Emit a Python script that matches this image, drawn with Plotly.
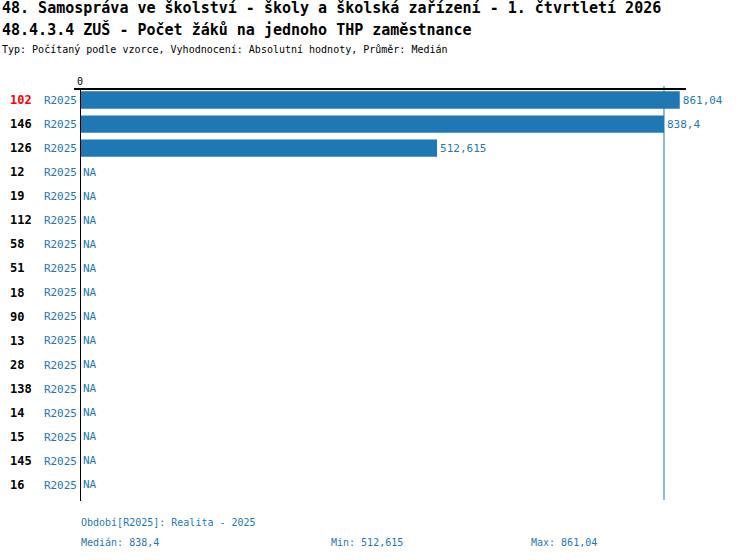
import plotly.graph_objects as go

ids = ["102", "146", "126", "12", "19", "112", "58", "51", "18", "90",
       "13", "28", "138", "14", "15", "145", "16"]
period = "R2025"
values = [861.04, 838.4, 512.615, None, None, None, None, None, None, None,
          None, None, None, None, None, None, None]
highlight = "102"
median = 838.4
v_min = 512.615
v_max = 861.04

title1 = "48. Samospráva ve školství - školy a školská zařízení - 1. čtvrtletí 2026"
title2 = "48.4.3.4 ZUŠ - Počet žáků na jednoho THP zaměstnance"
subtitle = "Typ: Počítaný podle vzorce, Vyhodnocení: Absolutní hodnoty, Průměr: Medián"
period_note = "Období[R2025]: Realita - 2025"

W, H = 750, 560
L, R, T, B = 80, 64, 88, 63
BLUE = "#1f77b4"
FONT = "DejaVu Sans Mono"


def fmt(v):
    return ("%g" % v).replace(".", ",")


def py(pix):
    # pixel row -> paper y
    return (H - B - pix) / (H - T - B)


def px(pix):
    return (pix - L) / (W - L - R)


rows = list(range(len(ids)))

fig = go.Figure()
fig.add_trace(go.Bar(
    y=rows,
    x=[v if v is not None else 0 for v in values],
    orientation="h",
    marker=dict(color=BLUE, line=dict(width=0)),
    width=0.72,
    text=[fmt(v) if v is not None else "" for v in values],
    textposition="outside",
    cliponaxis=False,
    textfont=dict(family=FONT, size=11, color=BLUE),
    hoverinfo="skip",
))

annotations = []
for i, (name, v) in enumerate(zip(ids, values)):
    annotations.append(dict(
        x=px(8), y=i, xref="paper", yref="y", text="<b>%s</b>" % name,
        showarrow=False, xanchor="left", yanchor="middle",
        font=dict(family=FONT, size=12, color="red" if name == highlight else "black"),
    ))
    if v is None:
        annotations.append(dict(
            x=0, y=i, xref="x", yref="y", text="NA", showarrow=False,
            xanchor="left", yanchor="middle", xshift=1,
            font=dict(family=FONT, size=11, color=BLUE),
        ))

for text, y, size, bold in [(title1, 8, 15, True), (title2, 30, 15, True), (subtitle, 50, 10, False)]:
    annotations.append(dict(
        x=px(0), y=py(y), xref="paper", yref="paper",
        text="<b>%s</b>" % text if bold else text, showarrow=False,
        xanchor="left", yanchor="middle",
        font=dict(family=FONT, size=size, color="black"),
    ))

for text, x, y in [(period_note, 79, 522),
                   ("Medián: " + fmt(median), 79, 542),
                   ("Min: " + fmt(v_min), 329, 542),
                   ("Max: " + fmt(v_max), 529, 542)]:
    annotations.append(dict(
        x=px(x), y=py(y), xref="paper", yref="paper", text=text, showarrow=False,
        xanchor="left", yanchor="middle",
        font=dict(family=FONT, size=10, color=BLUE),
    ))

fig.add_shape(type="line", xref="x", yref="paper", x0=median, x1=median,
              y0=py(500), y1=py(86), line=dict(color=BLUE, width=1))
fig.add_shape(type="line", xref="paper", yref="paper", x0=px(74), x1=1,
              y0=py(89), y1=py(89), line=dict(color="black", width=2))
fig.add_shape(type="line", xref="x", yref="paper", x0=0, x1=0,
              y0=py(501), y1=py(88), line=dict(color="black", width=2))

fig.update_layout(
    width=W, height=H,
    margin=dict(l=L, r=R, t=T, b=B),
    plot_bgcolor="white", paper_bgcolor="white",
    showlegend=False,
    bargap=0.28,
    font=dict(family=FONT, size=10, color="black"),
    xaxis=dict(range=[0, 870], side="top", tickvals=[0], ticktext=["0"],
               showgrid=False, zeroline=False, showline=False, ticks="",
               tickfont=dict(family=FONT, size=10, color="black"), fixedrange=True),
    yaxis=dict(range=[len(ids) - 0.5, -0.5], tickvals=rows,
               ticktext=[period] * len(ids), showgrid=False, zeroline=False,
               showline=False, ticks="", ticklabelstandoff=2,
               tickfont=dict(family=FONT, size=11, color=BLUE), fixedrange=True),
    annotations=annotations,
)

fig.write_html("out.html", config={"displayModeBar": False},
               post_script="document.body.style.margin='0px';")
